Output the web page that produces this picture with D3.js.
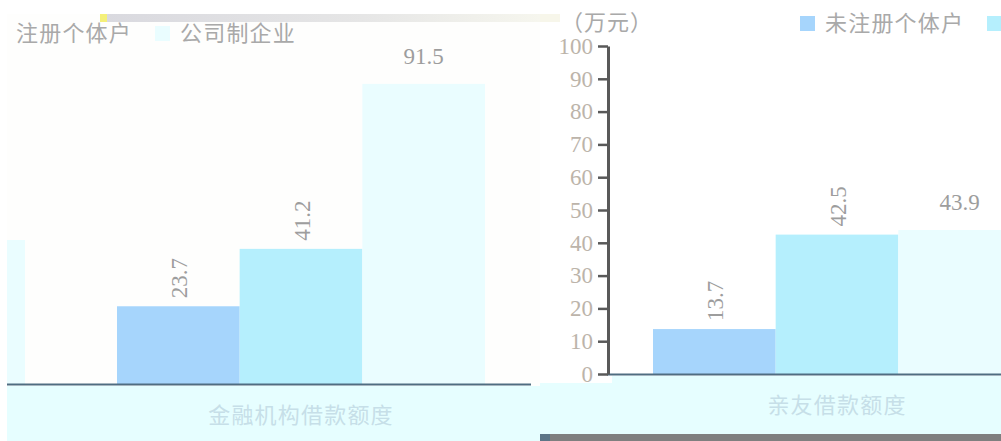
<!DOCTYPE html>
<html><head><meta charset="utf-8">
<script src="https://cdn.jsdelivr.net/npm/d3@7"></script>
<style>body{margin:0;background:#fff}svg{display:block}</style>
</head><body><svg id="c" width="1001" height="441"></svg>
<script>
// ---- data ----
const categories = ["亲友借款额度", "金融机构借款额度"];
const seriesNames = ["未注册个体户", "注册个体户", "公司制企业"];
const seriesUnregistered = [13.7, 23.7];
const seriesRegistered = [42.5, 41.2];
const seriesCompany = [43.9, 91.5];
const yTicks = [0, 10, 20, 30, 40, 50, 60, 70, 80, 90, 100];
const unitLabel = "（万元）";

const seriesValues = [seriesUnregistered, seriesRegistered, seriesCompany];
const colors = ["#a6d5fc", "#b5effd", "#eafdff"];
const rotated = [true, true, false];

const svg = d3.select("#c");
const defs = svg.append("defs");
const grad = defs.append("linearGradient").attr("id", "strip");
grad.append("stop").attr("offset", "0").attr("stop-color", "#d9d9df");
grad.append("stop").attr("offset", "0.6").attr("stop-color", "#e6e6e6");
grad.append("stop").attr("offset", "1").attr("stop-color", "#f6f6ee");

const x0 = d3.scaleBand().domain(categories).range([607, 1527]).paddingInner(0.2).paddingOuter(0.1);
const x1 = d3.scaleBand().domain(d3.range(seriesNames.length)).range([0, x0.bandwidth()]);
const y = d3.scaleLinear().domain([0, 100]).range([374, 46]);

const CJK = "'Noto Sans CJK SC', sans-serif";
const SERIF = "'Liberation Serif', 'DejaVu Serif', serif";

function drawChart(g) {
  g.append("rect").attr("x", 540).attr("y", 376).attr("width", 1100).attr("height", 58).attr("fill", "#e6feff");
  g.append("rect").attr("x", 540).attr("y", 376).attr("width", 72).attr("height", 7).attr("fill", "#fff");
  g.append("rect").attr("x", 540).attr("y", 434).attr("width", 1100).attr("height", 8).attr("fill", "#7f7f7f");
  g.append("rect").attr("x", 540).attr("y", 434).attr("width", 10).attr("height", 8).attr("fill", "#5c7587");

  const groups = g.selectAll("g.grp").data(categories).join("g")
    .attr("transform", d => `translate(${x0(d)},0)`);
  groups.each(function(cat, ci) {
    const gg = d3.select(this);
    seriesValues.forEach((vals, si) => {
      const v = vals[ci];
      gg.append("rect").attr("x", x1(si)).attr("y", y(v))
        .attr("width", x1.bandwidth()).attr("height", y(0) - y(v))
        .attr("fill", colors[si]);
      const cx = x1(si) + x1.bandwidth() / 2;
      if (rotated[si]) {
        gg.append("text").attr("transform", `translate(${cx + 1},${y(v) - 8}) rotate(-90)`)
          .attr("dy", "0.35em").attr("text-anchor", "start")
          .style("font-family", SERIF).style("font-size", "23px").attr("fill", "#9d9d9d")
          .text(v);
      } else {
        gg.append("text").attr("x", cx).attr("y", y(v) - 20)
          .attr("text-anchor", "middle")
          .style("font-family", SERIF).style("font-size", "23px").attr("fill", "#9d9d9d")
          .text(v);
      }
    });
  });

  g.append("line").attr("x1", 607).attr("x2", 1527).attr("y1", 374.5).attr("y2", 374.5)
    .attr("stroke", "#4f6d81").attr("stroke-width", 2.2);

  g.selectAll("text.cat").data(categories).join("text")
    .attr("x", d => x0(d) + x0.bandwidth() / 2).attr("y", 413)
    .attr("text-anchor", "middle").style("font-family", CJK).style("font-size", "22px")
    .style("letter-spacing", "1.2px").attr("fill", "#c6dfe8").text(d => d);

  const ya = g.append("g").attr("transform", "translate(608,0)")
    .call(d3.axisLeft(y).tickValues(yTicks).tickSize(10).tickPadding(5).tickSizeOuter(0));
  ya.select(".domain").attr("stroke", "#595959").attr("stroke-width", 3);
  ya.selectAll(".tick line").attr("stroke", "#595959").attr("stroke-width", 2.5);
  ya.selectAll(".tick text").style("font-family", SERIF).style("font-size", "23px")
    .attr("fill", "#bcb4aa");

  g.append("text").attr("x", 561).attr("y", 30).style("font-family", CJK).style("font-size", "22px")
    .style("letter-spacing", "1px").attr("fill", "#a9a9a9").text(unitLabel);

  const legX = [800, 987, 1151];
  seriesNames.forEach((s, i) => {
    g.append("rect").attr("x", legX[i]).attr("y", 16).attr("width", 15).attr("height", 15).attr("fill", colors[i]);
    g.append("text").attr("x", legX[i] + 25).attr("y", 31).style("font-family", CJK).style("font-size", "22px")
      .style("letter-spacing", "1.2px").attr("fill", "#a9a9a9").text(s);
  });
}

defs.append("clipPath").attr("id", "clipL").append("rect").attr("x", 7).attr("y", 14).attr("width", 533).attr("height", 427);
defs.append("clipPath").attr("id", "clipR").append("rect").attr("x", 540).attr("y", 0).attr("width", 461).attr("height", 441);

const left = svg.append("g").attr("clip-path", "url(#clipL)");
left.append("rect").attr("x", 7).attr("y", 14).attr("width", 533).attr("height", 427).attr("fill", "#fefefd");
drawChart(left.append("g").attr("transform", "translate(-996,10)"));
left.append("rect").attr("x", 100).attr("y", 14).attr("width", 440).attr("height", 8).attr("fill", "url(#strip)");
left.append("rect").attr("x", 100).attr("y", 14).attr("width", 7).attr("height", 8).attr("fill", "#f4f07a");

const right = svg.append("g").attr("clip-path", "url(#clipR)");
right.append("rect").attr("x", 540).attr("y", 0).attr("width", 461).attr("height", 441).attr("fill", "#fff");
drawChart(right.append("g"));
right.append("rect").attr("x", 540).attr("y", 14).attr("width", 20).attr("height", 8).attr("fill", "#f7f6ea");
</script></body></html>
